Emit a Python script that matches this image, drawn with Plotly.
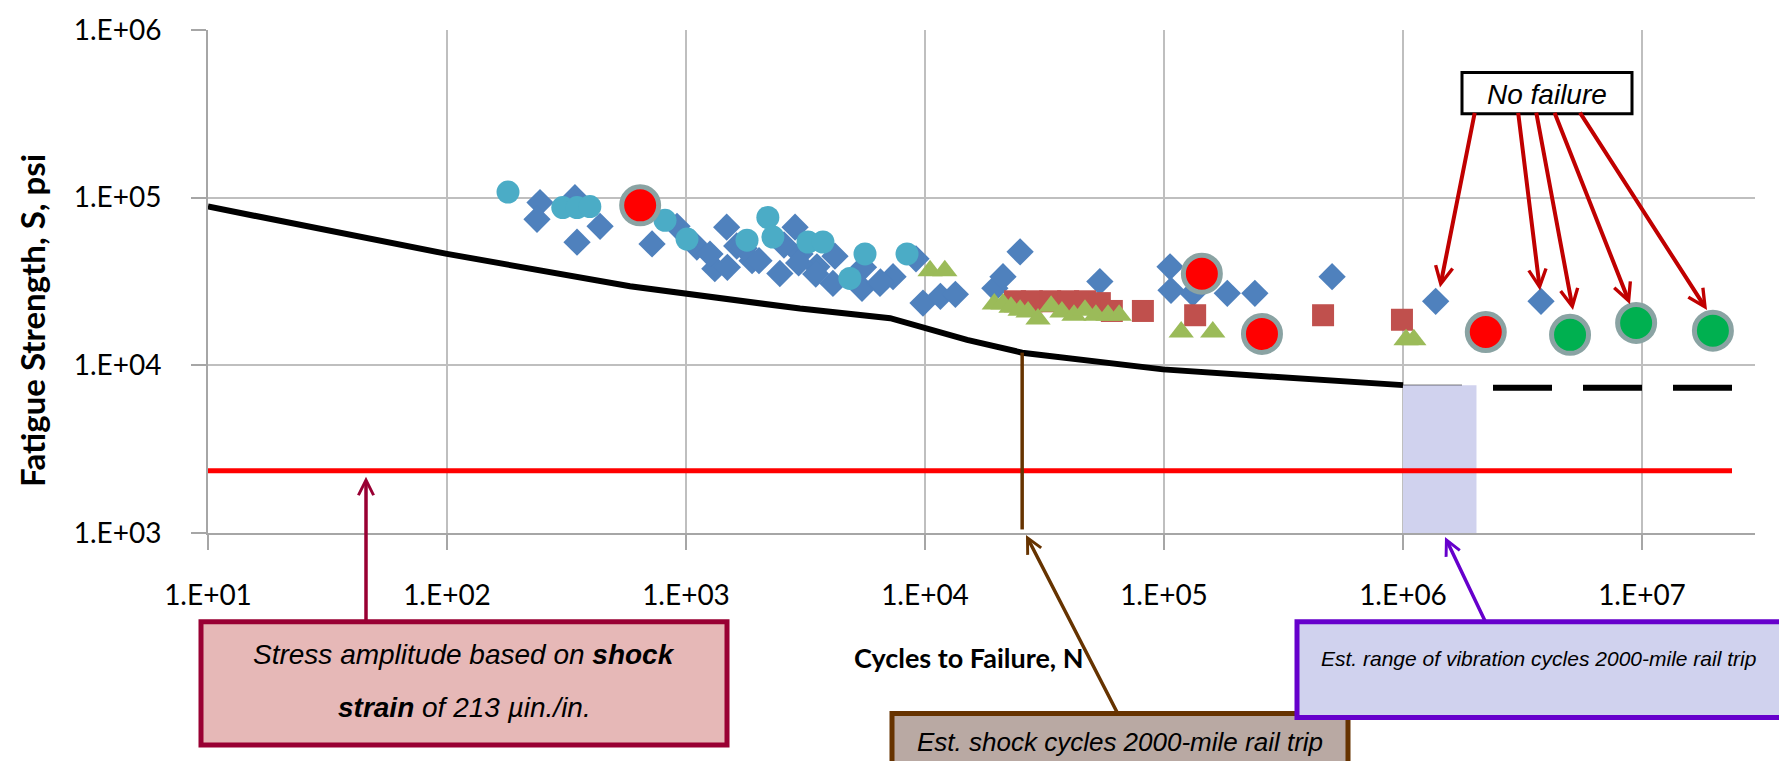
import numpy as np
import plotly.graph_objects as go

# ---------------- data ----------------
# design (fatigue) curve
design_N = [10, 100, 583, 1000, 3000, 7150, 10000, 15000, 25500, 49500, 99000, 229000, 1000000]
design_S = [88500, 46200, 29600, 26900, 21800, 19100, 16700, 14200, 11900, 10600, 9460, 8730, 7620]

# endurance (dashed) continuation
endur_N = [1000000, 23800000]
endur_S = [7350, 7350]

# shock stress amplitude line
shock_line_N = [10, 23800000]
shock_line_S = [2350, 2350]

# estimated shock cycles (vertical brown line)
shock_cycles_N = [25500, 25500]
shock_cycles_S = [1050, 11900]

# estimated range of vibration cycles (shaded band)
vib_N = [1000000, 2030000]
vib_S = [1000, 7600]

# test series
diamond_N = [245, 238, 343, 350, 437, 721, 917, 1110, 1320, 1480, 1630, 1890, 2470, 2860, 3000,
             3530, 4120, 5450, 6480, 7350, 9170, 9810, 11600, 13400, 19600, 21200, 25000, 53900,
             106000, 107000, 132000, 184000, 240000, 505000, 1370000, 3780000,
             1070, 1260, 1490, 1750, 2020, 2570, 2960, 3490, 4200, 5530, 6510]
diamond_S = [93500, 74300, 100000, 54300, 67500, 53000, 67500, 50800, 37700, 66700, 51500, 42100,
             35300, 66700, 46200, 38700, 30800, 28800, 30800, 33800, 43200, 23500, 25800, 26500,
             28800, 33800, 47500, 31600, 38700, 28000, 26900, 26900, 26900, 33800, 24100, 24100,
             53800, 46100, 38400, 49900, 42100, 52200, 40800, 35000, 44800, 38400, 31400]

teal_N = [180, 305, 350, 396, 817, 1010, 1800, 2200, 2310, 3240, 3740, 4850, 5610, 8410]
teal_S = [108000, 87300, 87300, 88500, 73300, 56600, 55800, 76200, 58200, 54400, 54400, 33000,
          46200, 46200]

square_N = [23800, 28000, 33400, 39700, 46700, 53900, 60500, 81600, 135000, 463000, 990000]
square_S = [24100, 24100, 24100, 24100, 24100, 23500, 21100, 21100, 19900, 19900, 18700]

tri_N = [10500, 12100, 19500, 21200, 22900, 25000, 27000, 29700, 33700, 37400, 42000, 46700,
         51900, 58300, 64900, 118000, 160000, 1030000, 1110000]
tri_S = [36700, 36700, 23200, 23200, 22200, 21300, 20800, 18900, 22500, 20800, 19900, 21300,
         19900, 19900, 19900, 15800, 15800, 14200, 14200]

redc_N = [643, 144000, 257000, 2220000]
redc_S = [90000, 35200, 15400, 15800]

greenc_N = [5000000, 9450000, 19800000]
greenc_S = [15200, 17900, 16100]

x_ticks = [1e1, 1e2, 1e3, 1e4, 1e5, 1e6, 1e7]
x_ticktext = ["1.E+01", "1.E+02", "1.E+03", "1.E+04", "1.E+05", "1.E+06", "1.E+07"]
y_ticks = [1e3, 1e4, 1e5, 1e6]
y_ticktext = ["1.E+03", "1.E+04", "1.E+05", "1.E+06"]

# ---------------- layout geometry ----------------
W_IMG, H_IMG = 1779, 761
L, R, T, B = 208, 1755, 23, 533
PW, PH = R - L, B - T


def px(x):
    return (x - L) / PW


def py(y):
    return (B - y) / PH


TICKFONT = "Lato, Carlito, Calibri, sans-serif"
BOXFONT = "Liberation Sans, Arial, sans-serif"

fig = go.Figure()

fig.add_trace(go.Scatter(x=design_N, y=design_S, mode="lines",
                         line=dict(color="black", width=6), hoverinfo="skip"))
fig.add_trace(go.Scatter(x=endur_N, y=endur_S, mode="lines",
                         line=dict(color="black", width=6, dash="59px,31px"), hoverinfo="skip"))
fig.add_trace(go.Scatter(x=[vib_N[0], vib_N[1], vib_N[1], vib_N[0], vib_N[0]],
                         y=[vib_S[0], vib_S[0], vib_S[1], vib_S[1], vib_S[0]],
                         mode="lines", fill="toself", fillcolor="#D0D2EE",
                         line=dict(width=0, color="#D0D2EE"), hoverinfo="skip"))
fig.add_trace(go.Scatter(x=shock_line_N, y=shock_line_S, mode="lines",
                         line=dict(color="#FF0000", width=5), hoverinfo="skip"))
fig.add_trace(go.Scatter(x=shock_cycles_N, y=shock_cycles_S, mode="lines",
                         line=dict(color="#663300", width=3.5), hoverinfo="skip"))

fig.add_trace(go.Scatter(x=diamond_N, y=diamond_S, mode="markers",
                         marker=dict(symbol="diamond", size=21, color="#4F81BD")))
fig.add_trace(go.Scatter(x=teal_N, y=teal_S, mode="markers",
                         marker=dict(symbol="circle", size=23, color="#4BACC6")))
fig.add_trace(go.Scatter(x=square_N, y=square_S, mode="markers",
                         marker=dict(symbol="square", size=22, color="#C0504D")))
fig.add_trace(go.Scatter(x=tri_N, y=tri_S, mode="markers",
                         marker=dict(symbol="triangle-up", size=22, color="#9BBB59")))
fig.add_trace(go.Scatter(x=redc_N, y=redc_S, mode="markers",
                         marker=dict(symbol="circle", size=37, color="#FF0000",
                                     line=dict(color="#8AA3A3", width=5))))
fig.add_trace(go.Scatter(x=greenc_N, y=greenc_S, mode="markers",
                         marker=dict(symbol="circle", size=37, color="#00B050",
                                     line=dict(color="#8AA3A3", width=5))))

axis_common = dict(type="log", showgrid=True, gridcolor="#BFBFBF", gridwidth=2,
                   showline=True, linecolor="#A6A6A6", linewidth=2, zeroline=False,
                   ticks="outside", tickcolor="#A6A6A6", tickwidth=2,
                   tickfont=dict(family=TICKFONT, size=28, color="black"))

fig.update_xaxes(**axis_common, range=[1, 1 + PW / 239.0], tickmode="array",
                 tickvals=x_ticks, ticktext=x_ticktext, ticklen=15, ticklabelstandoff=21)
fig.update_yaxes(**axis_common, range=[3, 6], tickmode="array",
                 tickvals=y_ticks, ticktext=y_ticktext, ticklen=15, ticklabelstandoff=24)

shapes = []
annotations = []


def box(x0, y0, x1, y1, fill, border, width):
    shapes.append(dict(type="rect", xref="paper", yref="paper",
                       x0=px(x0), x1=px(x1), y0=py(y1), y1=py(y0),
                       fillcolor=fill, line=dict(color=border, width=width), layer="above"))


def text(x, y, s, size, family=BOXFONT, color="black", angle=0):
    annotations.append(dict(xref="paper", yref="paper", x=px(x), y=py(y), text=s,
                            showarrow=False, xanchor="center", yanchor="middle",
                            textangle=angle, font=dict(family=family, size=size, color=color)))


def arrow(tx, ty, hx, hy, color, width):
    annotations.append(dict(xref="paper", yref="paper", x=px(hx), y=py(hy), text="",
                            showarrow=True, axref="pixel", ayref="pixel",
                            ax=tx - hx, ay=ty - hy, arrowcolor=color, arrowwidth=width,
                            arrowhead=5, arrowsize=0.85, standoff=0))


# axis titles
text(969, 659, "<b>Cycles to Failure, N</b>", 27, family=TICKFONT)
text(32, 318, "<b>Fatigue Strength, S, psi</b>", 33, family=TICKFONT, angle=-90)

# stress amplitude box
box(201, 623, 727, 748, "#E6B8B7", "#990033", 5)
text(464, 656, "<i>Stress amplitude based on <b>shock</b></i>", 28)
text(464, 710, "<i><b>strain</b> of 213 µin./in.</i>", 28)
arrow(366, 623, 366, 476, "#990033", 3.5)

# shock cycles box
box(892, 716, 1348, 800, "#B9A9A3", "#663300", 5)
text(1120, 745, "<i>Est. shock cycles 2000-mile rail trip</i>", 26)
arrow(1119, 716, 1026, 535, "#663300", 3.5)

# vibration box
box(1297, 623, 1790, 720, "#D0D2EE", "#6600CC", 5)
text(1538, 660, "<i>Est. range of vibration cycles 2000-mile rail trip</i>", 21)
arrow(1486, 623, 1445, 537, "#6600CC", 3.5)

# no failure box
box(1462, 66, 1632, 108, "white", "black", 3)
text(1547, 88, "<i>No failure</i>", 28)
for tx, hx, hy in [(1475, 1440, 284), (1518, 1540, 287), (1536, 1573, 307),
                   (1554, 1630, 301), (1579, 1707, 307)]:
    arrow(tx, 108, hx, hy, "#C00000", 4)

fig.update_layout(width=W_IMG, height=H_IMG,
                  margin=dict(l=L, r=W_IMG - R, t=T, b=H_IMG - B, pad=0),
                  paper_bgcolor="white", plot_bgcolor="white", showlegend=False,
                  shapes=shapes, annotations=annotations)

fig.write_html("out.html", config={"displayModeBar": False},
               post_script="document.body.style.margin='0';document.body.style.overflow='hidden';")
